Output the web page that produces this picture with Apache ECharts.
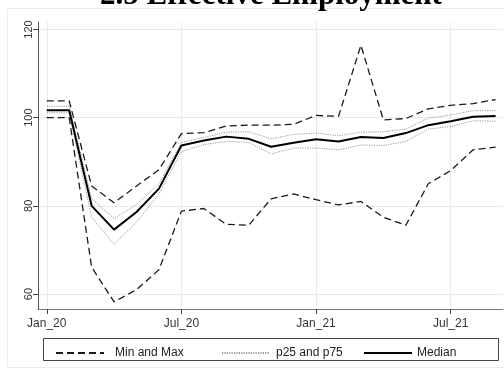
<!DOCTYPE html>
<html>
<head>
<meta charset="utf-8">
<script src="https://cdn.jsdelivr.net/npm/echarts@6/dist/echarts.min.js"></script>
<style>
html,body{margin:0;padding:0;background:#fff;}
#chart{width:504px;height:374px;}
</style>
</head>
<body>
<div id="chart"></div>
<script>
var months = ['Jan_20','Feb_20','Mar_20','Apr_20','May_20','Jun_20','Jul_20','Aug_20','Sep_20','Oct_20','Nov_20','Dec_20',
              'Jan_21','Feb_21','Mar_21','Apr_21','May_21','Jun_21','Jul_21','Aug_21','Sep_21'];
var maxVals    = [103.8,103.8,84.5,80.7,84.5,88.2,96.4,96.6,98.1,98.3,98.3,98.5,100.5,100.3,116.4,99.5,99.8,102.0,102.8,103.2,104.1];
var p75Vals    = [102.6,102.6,81.6,77.1,80.3,85.0,94.4,95.5,96.7,96.8,95.2,96.2,96.5,95.9,96.7,96.8,97.4,99.9,100.6,101.6,101.6];
var medianVals = [101.7,101.7,80.0,74.6,78.6,83.9,93.7,94.8,95.7,95.2,93.4,94.3,95.1,94.6,95.6,95.4,96.5,98.3,99.2,100.2,100.4];
var p25Vals    = [101.1,101.1,77.4,71.3,76.3,82.7,92.3,93.9,94.6,94.4,91.8,93.1,93.1,92.7,93.8,93.7,94.6,97.4,98.0,99.3,99.2];
var minVals    = [100.0,100.0,66.1,58.2,61.0,65.5,78.8,79.4,75.8,75.6,81.6,82.7,81.4,80.2,81.0,77.4,75.6,85.0,88.0,92.7,93.3];
var xTickIdx = [0, 6, 12, 18];
var yTicks = [60, 80, 100, 120];
var titleText = '2.5 Effective Employment';

function pts(arr){ return arr.map(function(v,i){ return [i, v]; }); }

var chart = echarts.init(document.getElementById('chart'), null, {renderer:'canvas'});
var dashStyle = {color:'#1a1a1a', width:1.3, type:[7,4]};
var dotStyle = {color:'#9a9a9a', width:1, type:[1.2,1.2]};
var medStyle = {color:'#000', width:2, type:'solid'};
var gridColor = '#e3ecee';
var font = 'Liberation Sans, Arial, sans-serif';
var hiddenSymbol = {color:'rgba(0,0,0,0)', borderWidth:0, opacity:0};

chart.setOption({
  animation:false,
  backgroundColor:'#fff',
  graphic:[
    {type:'rect', shape:{x:7.5, y:8.5, width:520, height:359}, style:{fill:'none', stroke:'#e6eef0', lineWidth:1}, z:-10},
    {type:'text', x:271, y:-4, style:{text:titleText, font:'bold 31px "Liberation Serif", "Times New Roman", serif', fill:'#000', textAlign:'center', textVerticalAlign:'middle'}, z:10},
    {type:'rect', shape:{x:43.5, y:338.5, width:455, height:22}, style:{fill:'none', stroke:'#444', lineWidth:1}}
  ],
  grid:{left:38, right:1, top:22, bottom:65, containLabel:false},
  xAxis:{
    type:'value', min:-0.39, max:20.33,
    axisLine:{show:true, onZero:false, lineStyle:{color:'#777', width:1}},
    axisTick:{show:true, length:5, customValues:xTickIdx, lineStyle:{color:'#444'}},
    axisLabel:{customValues:xTickIdx, margin:9, color:'#333', fontSize:12, fontFamily:font,
      formatter:function(v){ return months[Math.round(v)]; }},
    splitLine:{show:true, lineStyle:{color:gridColor, width:1}}
  },
  yAxis:{
    type:'value', min:56.6, max:121.7,
    axisLine:{show:true, onZero:false, lineStyle:{color:'#555', width:1}},
    axisTick:{show:true, length:5, customValues:yTicks, lineStyle:{color:'#444'}},
    axisLabel:{customValues:yTicks, rotate:90, margin:4, color:'#333', fontSize:11, fontFamily:font},
    splitLine:{show:true, lineStyle:{color:gridColor, width:1}}
  },
  legend:[
    {left:50, top:342, itemWidth:48, itemHeight:14, itemGap:0, data:['Min and Max'], itemStyle:hiddenSymbol,
     textStyle:{color:'#222', fontSize:12, fontFamily:font, padding:[0,0,0,6]}},
    {left:216, top:342, itemWidth:48, itemHeight:14, itemGap:0, data:['p25 and p75'], itemStyle:hiddenSymbol,
     textStyle:{color:'#222', fontSize:12, fontFamily:font, padding:[0,0,0,1]}},
    {left:358, top:342, itemWidth:48, itemHeight:14, itemGap:0, data:['Median'], itemStyle:hiddenSymbol,
     textStyle:{color:'#222', fontSize:12, fontFamily:font}}
  ],
  series:[
    {name:'Min and Max', type:'line', data:pts(minVals), symbol:'none', lineStyle:dashStyle, itemStyle:{color:'#1a1a1a'}, z:2},
    {name:'Min and Max', type:'line', data:pts(maxVals), symbol:'none', lineStyle:dashStyle, itemStyle:{color:'#1a1a1a'}, z:2},
    {name:'p25 and p75', type:'line', data:pts(p25Vals), symbol:'none', lineStyle:dotStyle, itemStyle:{color:'#9a9a9a'}, z:3},
    {name:'p25 and p75', type:'line', data:pts(p75Vals), symbol:'none', lineStyle:dotStyle, itemStyle:{color:'#9a9a9a'}, z:3},
    {name:'Median', type:'line', data:pts(medianVals), symbol:'none', lineStyle:medStyle, itemStyle:{color:'#000'}, z:4}
  ]
});
</script>
</body>
</html>
